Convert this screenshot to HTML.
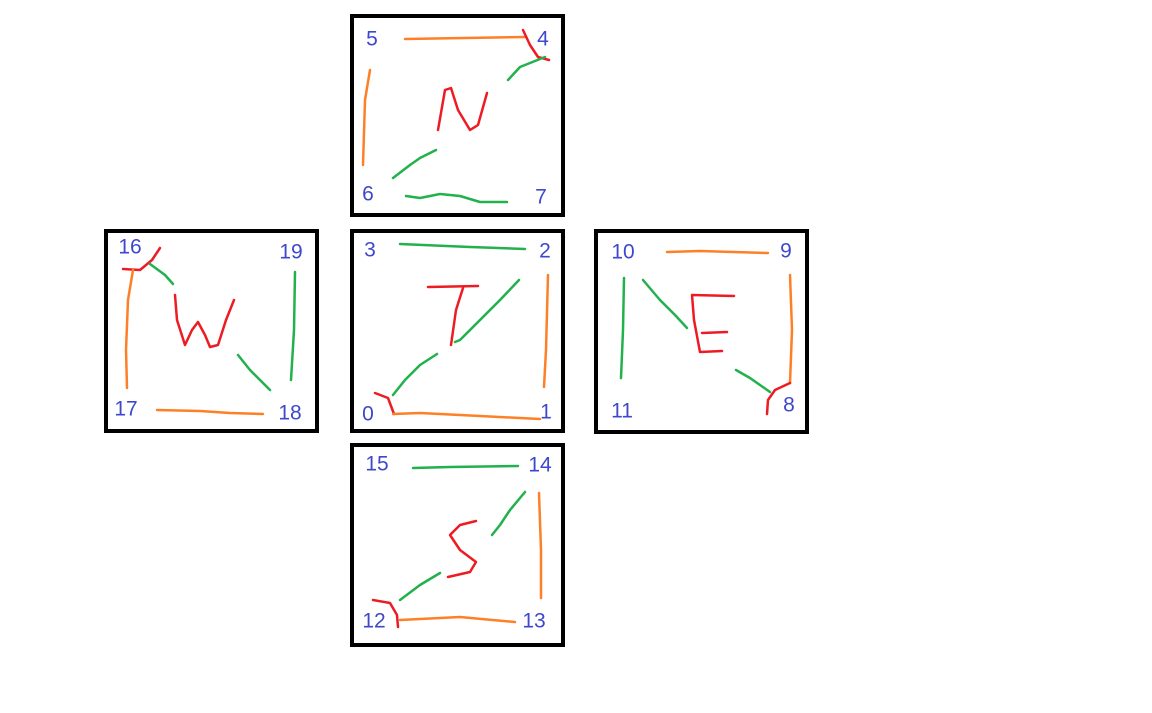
<!DOCTYPE html>
<html><head><meta charset="utf-8"><style>
html,body{margin:0;padding:0;background:#fff;}
svg{display:block}
text{font-family:"Liberation Sans",sans-serif;font-size:21px;fill:#3f48cc;text-anchor:middle;dominant-baseline:middle}
.o{stroke:#ff7f27}.g{stroke:#22b14c}.r{stroke:#ed1c24}
polyline{fill:none;stroke-width:2.5;stroke-linecap:round;stroke-linejoin:round}
rect{fill:none;stroke:#000;stroke-width:4}
</style></head><body>
<svg width="1152" height="713" viewBox="0 0 1152 713">
<g>
<rect x="352" y="16" width="211" height="199"/>
<text x="372" y="40">5</text>
<text x="543" y="40">4</text>
<text x="368" y="195">6</text>
<text x="541" y="198">7</text>
<polyline class="o" points="405,39 525,37"/>
<polyline class="r" points="523,30 530,45 538,57 549,60"/>
<polyline class="o" points="370,70 365,100 363,165"/>
<polyline class="g" points="508,80 520,67 545,57"/>
<polyline class="r" points="438,130 445,90 451,88 458,110 470,130 478,125 487,93"/>
<polyline class="g" points="393,178 410,165 420,158 436,150"/>
<polyline class="g" points="406,196 420,198 440,194 460,196 480,202 507,202"/>
</g>
<g>
<rect x="352" y="231" width="211" height="200"/>
<text x="370" y="251">3</text>
<text x="545" y="252">2</text>
<text x="368" y="415">0</text>
<text x="546" y="413">1</text>
<polyline class="g" points="400,244 470,247 525,249"/>
<polyline class="o" points="548,275 546,350 544,387"/>
<polyline class="r" points="428,287 478,286"/>
<polyline class="r" points="463,288 456,310 451,345"/>
<polyline class="g" points="519,280 500,300 480,320 460,340 455,342"/>
<polyline class="g" points="437,354 420,365 405,380 393,395"/>
<polyline class="r" points="375,393 388,398 394,414"/>
<polyline class="o" points="393,414 420,413 480,416 540,419"/>
</g>
<g>
<rect x="106" y="231" width="211" height="200"/>
<text x="130" y="248">16</text>
<text x="291" y="253">19</text>
<text x="126" y="410">17</text>
<text x="290" y="414">18</text>
<polyline class="r" points="123,269 140,270 152,260 160,248"/>
<polyline class="g" points="150,264 165,275 173,284"/>
<polyline class="o" points="133,270 128,300 126,350 127,388"/>
<polyline class="r" points="175,295 177,320 185,345 192,330 198,322 205,335 210,347 218,345 226,320 234,300"/>
<polyline class="g" points="238,355 250,370 262,382 270,390"/>
<polyline class="g" points="295,272 294,330 291,380"/>
<polyline class="o" points="157,410 200,411 230,413 263,414"/>
</g>
<g>
<rect x="596" y="231" width="211" height="201"/>
<text x="623" y="253">10</text>
<text x="786" y="252">9</text>
<text x="789" y="406">8</text>
<text x="622" y="412">11</text>
<polyline class="o" points="667,252 700,251 768,253"/>
<polyline class="g" points="624,278 623,330 621,378"/>
<polyline class="g" points="643,280 660,300 675,315 687,328"/>
<polyline class="r" points="734,296 692,295 694,320 700,352 722,351"/>
<polyline class="r" points="702,333 727,332"/>
<polyline class="o" points="790,275 792,330 790,383"/>
<polyline class="r" points="790,383 775,390 768,400 767,414"/>
<polyline class="g" points="736,370 750,378 760,385 770,392"/>
</g>
<g>
<rect x="352" y="445" width="211" height="200"/>
<text x="377" y="465">15</text>
<text x="540" y="466">14</text>
<text x="374" y="622">12</text>
<text x="534" y="622">13</text>
<polyline class="g" points="413,468 450,467 518,466"/>
<polyline class="o" points="539,493 541,550 541,598"/>
<polyline class="g" points="525,492 510,510 500,525 492,535"/>
<polyline class="r" points="476,521 460,525 450,535 460,550 476,562 470,572 448,577"/>
<polyline class="g" points="440,573 420,585 400,600"/>
<polyline class="r" points="373,600 390,603 397,615 398,627"/>
<polyline class="o" points="400,620 460,617 515,622"/>
</g>
</svg>
</body></html>
